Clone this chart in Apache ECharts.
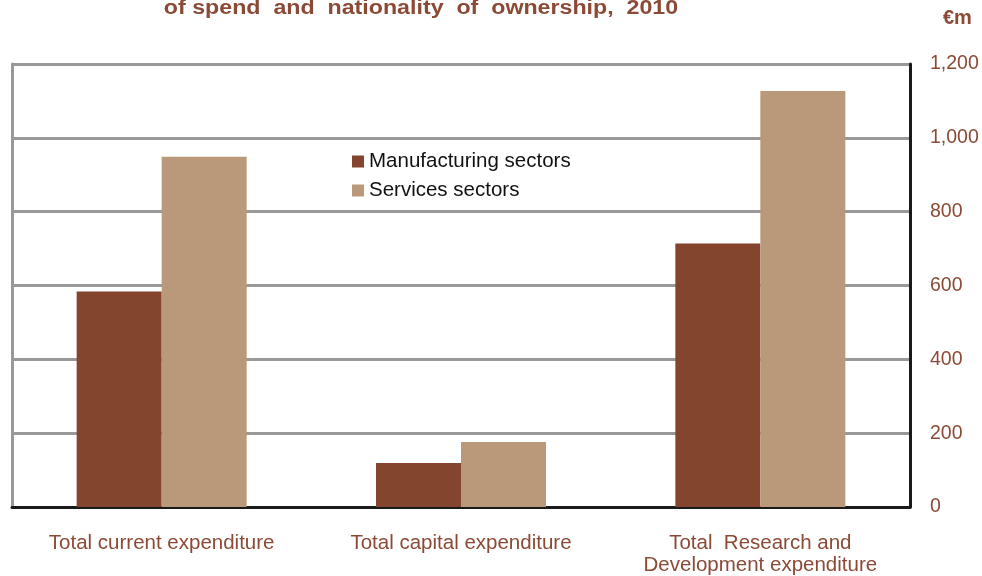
<!DOCTYPE html>
<html><head><meta charset="utf-8">
<script src="https://cdn.jsdelivr.net/npm/echarts@6/dist/echarts.min.js"></script>
<style>html,body{margin:0;padding:0;background:#fff}#c{width:982px;height:576px}</style>
</head><body><div id="c"></div>
<script>
const categories = ["Total current expenditure", "Total capital expenditure", "Total  Research and\nDevelopment expenditure"];
const manufacturing = [584, 119, 714];
const services = [949, 176, 1127];
const seriesNames = ["Manufacturing sectors", "Services sectors"];
const titleText = "of spend  and  nationality  of  ownership,  2010";
const unitText = "€m";

const brown = "#8B4A35";
const ff = 'Liberation Sans, Arial';
const chart = echarts.init(document.getElementById('c'));
chart.setOption({
  animation: false,
  graphic: [
    {type: 'text', x: 421, y: -2, scaleX: 1.16, originX: 0,
     style: {text: titleText, fill: brown, font: 'bold 20px ' + ff, textAlign: 'center'}},
    {type: 'text', left: 943, top: 8, style: {text: unitText, fill: brown, font: 'bold 20px ' + ff}}
  ],
  legend: {
    orient: 'vertical', left: 347, top: 146, itemWidth: 12, itemHeight: 12, itemGap: 8,
    icon: 'rect',
    textStyle: {fontFamily: ff, fontSize: 20.5, color: '#111'},
    data: seriesNames
  },
  grid: {left: 12, right: 72, top: 64, bottom: 68},
  xAxis: {
    type: 'category', data: categories,
    axisLine: {lineStyle: {color: '#1a1a1a', width: 3}},
    axisTick: {show: false},
    axisLabel: {color: brown, fontFamily: ff, fontSize: 20.5, margin: 25, lineHeight: 22, interval: 0}
  },
  yAxis: [{
    type: 'value', position: 'right', min: 0, max: 1200, interval: 200,
    axisLine: {show: true, lineStyle: {color: '#1a1a1a', width: 3}},
    axisTick: {show: false},
    splitLine: {lineStyle: {color: '#999', width: 3}},
    axisLabel: {color: brown, fontFamily: ff, fontSize: 19.5, margin: 20}
  }, {
    type: 'value', position: 'left', min: 0, max: 1200, interval: 200,
    axisLine: {show: true, lineStyle: {color: '#999', width: 3}},
    axisTick: {show: false}, axisLabel: {show: false}, splitLine: {show: false}
  }],
  series: [
    {name: seriesNames[0], type: 'bar', data: manufacturing, itemStyle: {color: '#84452F'}, barWidth: 85, barGap: '0%'},
    {name: seriesNames[1], type: 'bar', data: services, itemStyle: {color: '#BA997A'}, barWidth: 85, barGap: '0%'}
  ]
});
</script></body></html>
